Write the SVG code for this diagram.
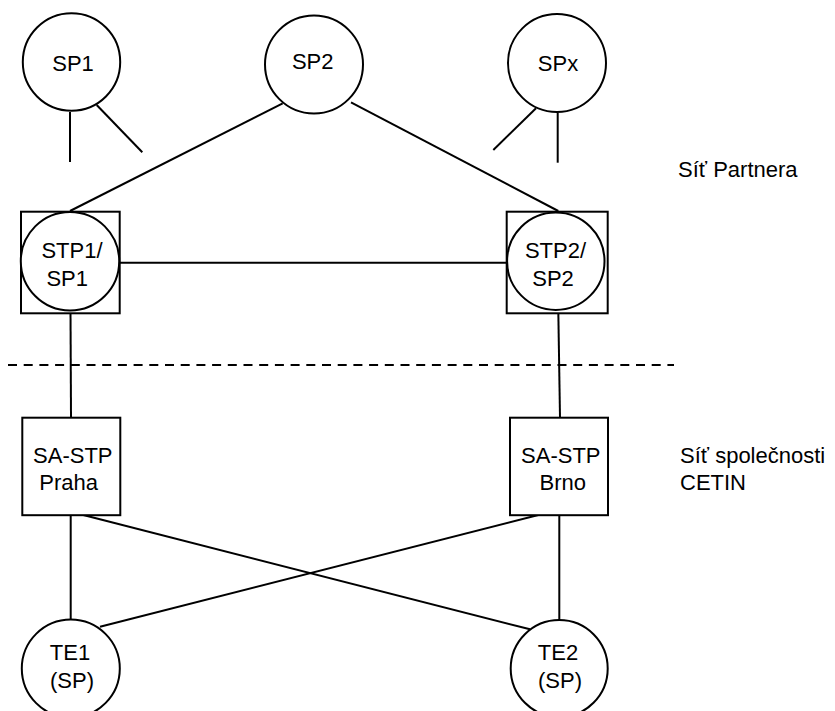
<svg xmlns="http://www.w3.org/2000/svg" width="835" height="711" viewBox="0 0 835 711">
<style>
.s{fill:#fff;stroke:#000;stroke-width:2}
.l{stroke:#000;stroke-width:2;fill:none}
text{font-family:"Liberation Sans",Arial,sans-serif;font-size:22px;fill:#000}
.m{text-anchor:middle}
</style>
<rect width="835" height="711" fill="#fff"/>
<g id="connectors">
<line class="l" x1="70" y1="112" x2="70" y2="162"/>
<line class="l" x1="96.7" y1="105" x2="142.3" y2="152.3"/>
<line class="l" x1="282.7" y1="103.3" x2="70" y2="211"/>
<line class="l" x1="351" y1="102.3" x2="558.3" y2="211"/>
<line class="l" x1="536" y1="108.3" x2="493.3" y2="150"/>
<line class="l" x1="557.7" y1="112.7" x2="557.7" y2="162.7"/>
<line class="l" x1="118.7" y1="262.7" x2="507.3" y2="262.7"/>
<line class="l" x1="70.5" y1="311" x2="71" y2="417"/>
<line class="l" x1="558.3" y1="311" x2="560" y2="417"/>
<line class="l" x1="8" y1="365" x2="674" y2="365" stroke-dasharray="9 6.7"/>
<line class="l" x1="70.7" y1="515" x2="70.7" y2="619.5"/>
<line class="l" x1="83.3" y1="515" x2="530" y2="629.3"/>
<line class="l" x1="538.3" y1="515" x2="100" y2="626.7"/>
<line class="l" x1="559.3" y1="515" x2="559.3" y2="619.5"/>
</g>
<g id="SP1"><circle class="s" cx="71.5" cy="62" r="48.7"/><text class="m" x="73" y="70.7">SP1</text></g>
<g id="SP2"><circle class="s" cx="314" cy="64.5" r="49"/><text class="m" x="312.7" y="68.5">SP2</text></g>
<g id="SPx"><circle class="s" cx="557" cy="63" r="49"/><text class="m" x="558" y="70.7">SPx</text></g>
<g id="STP1"><rect class="s" x="21" y="211.7" width="98.7" height="101.6"/><circle class="s" cx="70" cy="261.2" r="49.2"/><text class="m" x="72" y="257.7">STP1/</text><text class="m" x="67.2" y="286">SP1</text></g>
<g id="STP2"><rect class="s" x="506.7" y="211.7" width="101" height="101.6"/><circle class="s" cx="555.8" cy="261.2" r="48.7"/><text class="m" x="555.5" y="257.7">STP2/</text><text class="m" x="553" y="286">SP2</text></g>
<g id="SASTP-Praha"><rect class="s" x="22.3" y="417.7" width="98" height="97.5"/><text class="m" x="72.8" y="462.7">SA-STP</text><text class="m" x="68.7" y="490">Praha</text></g>
<g id="SASTP-Brno"><rect class="s" x="510" y="417.7" width="98" height="97.5"/><text class="m" x="560.8" y="462.7">SA-STP</text><text class="m" x="562.8" y="490">Brno</text></g>
<g id="TE1"><circle class="s" cx="70.8" cy="668.5" r="49"/><text class="m" x="70" y="660">TE1</text><text class="m" x="72" y="688.3">(SP)</text></g>
<g id="TE2"><circle class="s" cx="559.2" cy="668.5" r="48.5"/><text class="m" x="558" y="660">TE2</text><text class="m" x="560" y="688.3">(SP)</text></g>
<g id="labels"><text x="678" y="176.7">Síť Partnera</text><text x="680" y="462.7">Síť společnosti</text><text x="680" y="490">CETIN</text></g>
</svg>
